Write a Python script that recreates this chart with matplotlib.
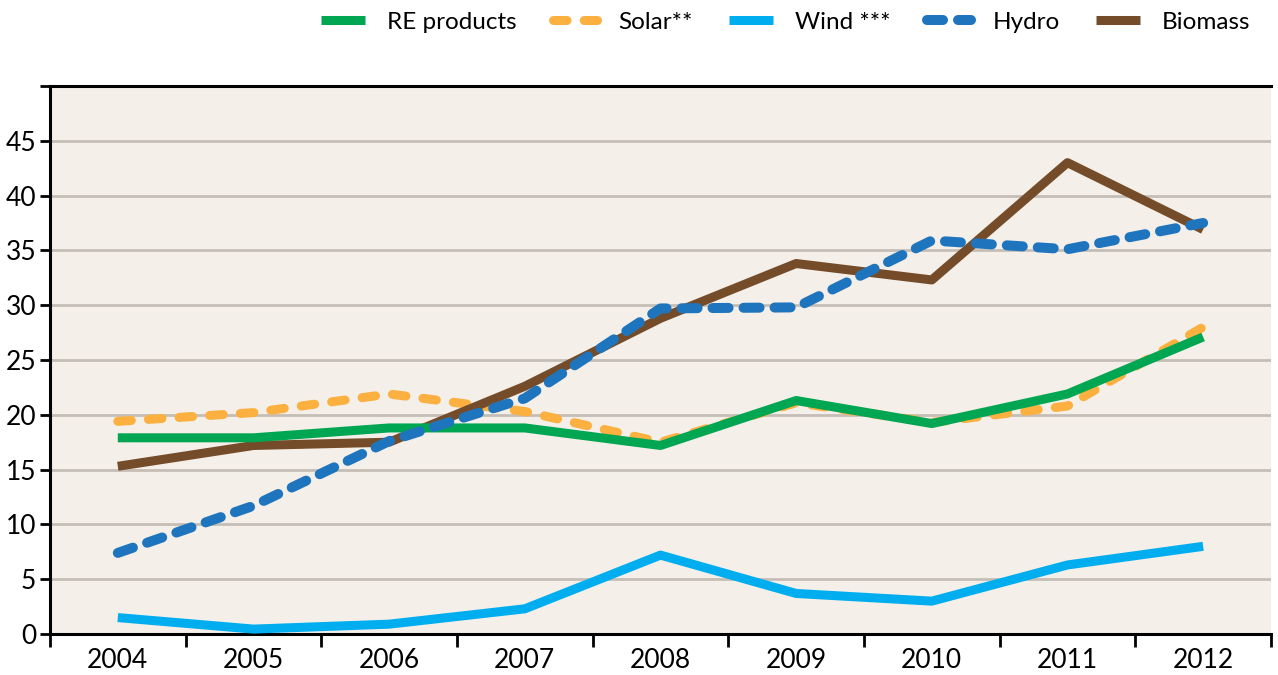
import matplotlib
matplotlib.use("Agg")
import matplotlib.pyplot as plt
from matplotlib.ticker import FixedLocator

plt.rcParams['font.family'] = ['Lato', 'DejaVu Sans']

years = ["2004", "2005", "2006", "2007", "2008", "2009", "2010", "2011", "2012"]
re_products = [17.9, 17.9, 18.8, 18.8, 17.2, 21.3, 19.2, 21.9, 27.1]
solar = [19.4, 20.2, 21.9, 20.3, 17.5, 21.1, 19.3, 20.8, 28.0]
wind = [1.5, 0.45, 0.9, 2.3, 7.2, 3.7, 3.0, 6.3, 8.0]
hydro = [7.4, 11.7, 17.6, 21.5, 29.7, 29.8, 35.9, 35.1, 37.5]
biomass = [15.3, 17.2, 17.5, 22.6, 28.8, 33.8, 32.3, 43.0, 36.9]

bg = "#f4efe9"
grid_c = "#c5beb7"

fig = plt.figure(figsize=(12.78, 6.75), dpi=100)
ax = fig.add_axes([0.0391, 0.0607, 0.9554, 0.812])
ax.set_facecolor(bg)

x = list(range(len(years)))

ax.plot(x, wind, color="#00aeef", lw=6.5, solid_capstyle="butt", label="Wind ***", zorder=3)
ax.plot(x, solar, color="#fbb040", lw=6.5, dashes=(1.5, 1.9), dash_capstyle="round",
        label="Solar**", zorder=3)
ax.plot(x, biomass, color="#754c29", lw=6.5, solid_capstyle="butt", label="Biomass", zorder=4)
ax.plot(x, re_products, color="#00a651", lw=6.5, solid_capstyle="butt", label="RE products", zorder=5)
ax.plot(x, hydro, color="#1f75bd", lw=7.2, dashes=(1.6, 1.5), dash_capstyle="round",
        label="Hydro", zorder=6)

ax.set_xlim(-0.5, len(years) - 0.5)
ax.set_ylim(0, 50)

ax.set_yticks(range(0, 51, 5))
ax.set_yticklabels([str(v) for v in range(0, 46, 5)] + [""])
ax.yaxis.grid(True, color=grid_c, lw=2)
ax.set_axisbelow(True)

ax.set_xticks(x)
ax.set_xticklabels(years)
ax.xaxis.set_minor_locator(FixedLocator([i - 0.5 for i in range(len(years) + 1)]))
ax.tick_params(axis="x", which="major", length=0, labelsize=19, pad=10)
ax.tick_params(axis="x", which="minor", length=9, width=2, direction="out")
ax.tick_params(axis="y", length=7, width=2, labelsize=19, pad=3)

for s in ["left", "bottom", "top"]:
    ax.spines[s].set_linewidth(2.2)
ax.spines["right"].set_visible(False)

handles, labels = ax.get_legend_handles_labels()
order = ["RE products", "Solar**", "Wind ***", "Hydro", "Biomass"]
hmap = dict(zip(labels, handles))
fig.legend([hmap[k] for k in order], order, loc="center right", bbox_to_anchor=(0.986, 0.967),
           ncol=5, frameon=False, fontsize=17.5, handlelength=1.8, handletextpad=0.9,
           columnspacing=1.5, borderaxespad=0)

fig.savefig("out.png", dpi=100, facecolor="white")
